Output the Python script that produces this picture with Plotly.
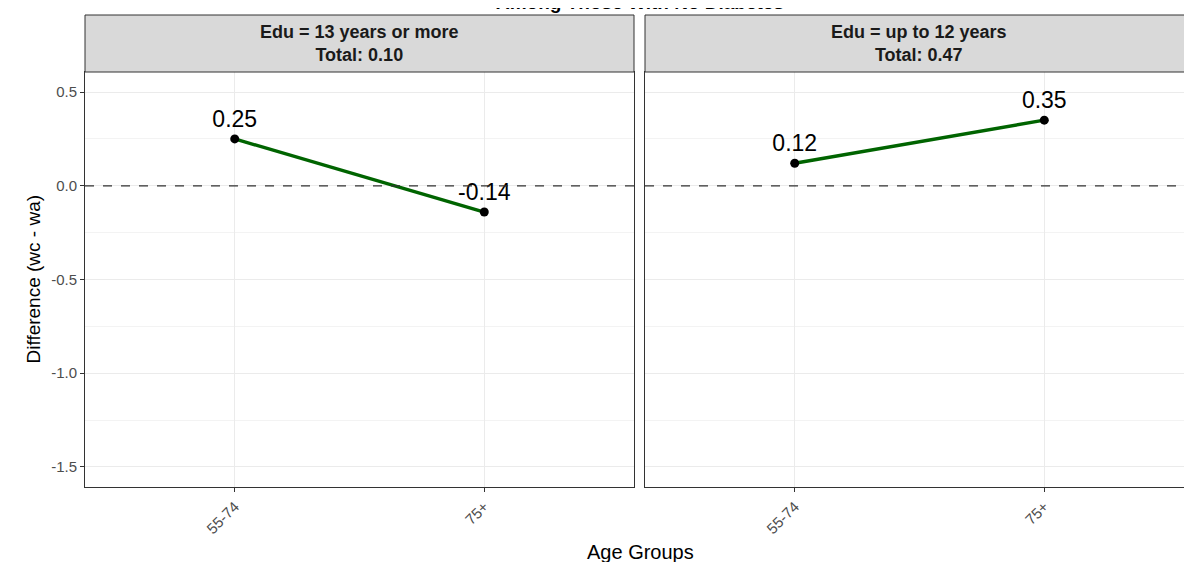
import plotly.graph_objects as go

age_groups = ["55-74", "75+"]
panel_line1 = ["Edu = 13 years or more", "Edu = up to 12 years"]
panel_line2 = ["Total: 0.10", "Total: 0.47"]
diff_edu13 = [0.25, -0.14]
diff_edu12 = [0.12, 0.35]
label_edu13 = ["0.25", "-0.14"]
label_edu12 = ["0.12", "0.35"]
y_ticks = [0.5, 0.0, -0.5, -1.0, -1.5]
y_tick_text = ["0.5", "0.0", "-0.5", "-1.0", "-1.5"]

FONT = "Liberation Sans, Arial, sans-serif"
# page body has an 8px margin; compensate so the plot lands where the reference has it
W, H = 1184, 554
ml, mr, mt, mb = 77, 0, 7, 75
plot_w = W - ml - mr
plot_h = H - mt - mb
strip_h = 57
ytop = 1 - strip_h / plot_h
d1 = (0, 549 / plot_w)
d2 = (560 / plot_w, 1.0)

fig = go.Figure()
series = [(diff_edu13, label_edu13, "x", "y"), (diff_edu12, label_edu12, "x2", "y2")]
for vals, labs, xa, ya in series:
    fig.add_trace(go.Scatter(
        x=age_groups, y=vals, xaxis=xa, yaxis=ya, mode="lines+markers+text",
        line=dict(color="#006400", width=3.4),
        marker=dict(color="black", size=9),
        text=labs, textposition="top center",
        textfont=dict(family=FONT, size=23, color="black"),
        showlegend=False, cliponaxis=False,
    ))

xcommon = dict(type="category", categoryorder="array", categoryarray=age_groups,
               showgrid=True, gridcolor="#EBEBEB", gridwidth=1, automargin=False,
               showline=True, linecolor="#333333", linewidth=1, mirror=True,
               ticks="outside", ticklen=4, tickcolor="#333333", tickangle=-45,
               tickfont=dict(family=FONT, size=15, color="#4D4D4D"), zeroline=False)
ycommon = dict(range=[-1.607, 0.607], tickvals=y_ticks, ticktext=y_tick_text,
               showgrid=True, gridcolor="#EBEBEB", gridwidth=1, automargin=False,
               minor=dict(dtick=0.25, tick0=0.25, showgrid=True, gridcolor="#F3F3F3", gridwidth=1),
               showline=True, linecolor="#333333", linewidth=1, mirror=True,
               ticks="outside", ticklen=4, tickcolor="#333333",
               tickfont=dict(family=FONT, size=15, color="#4D4D4D"), zeroline=False,
               domain=[0, ytop])

fig.update_layout(
    width=W, height=H, margin=dict(l=ml, r=mr, t=mt, b=mb, autoexpand=False),
    plot_bgcolor="white", paper_bgcolor="white",
    xaxis=dict(xcommon, domain=d1, range=[-0.6, 1.6]),
    xaxis2=dict(xcommon, domain=d2, range=[-0.6, 1.592], anchor="y2"),
    yaxis=dict(ycommon, anchor="x"),
    yaxis2=dict(ycommon, anchor="x2", showticklabels=False, ticks=""),
    font=dict(family=FONT),
)

# zero reference lines
for xa, ya in [("x", "y"), ("x2", "y2")]:
    fig.add_shape(type="line", xref=f"{xa} domain", yref=ya, x0=0, x1=1, y0=0, y1=0,
                  line=dict(color="#333333", width=1.2, dash="dash"))

# strips
for (dx0, dx1), l1, l2 in zip([d1, d2], panel_line1, panel_line2):
    fig.add_shape(type="rect", xref="paper", yref="paper", x0=dx0, x1=dx1, y0=ytop, y1=1,
                  fillcolor="#D9D9D9", line=dict(color="#333333", width=1))
    fig.add_annotation(xref="paper", yref="paper", x=(dx0 + dx1) / 2, y=(ytop + 1) / 2,
                       text=f"<b>{l1}</b><br><b>{l2}</b>", showarrow=False,
                       xanchor="center", yanchor="middle",
                       font=dict(family=FONT, size=18, color="#1A1A1A"), align="center")

fig.add_annotation(xref="paper", yref="paper", x=(555 / plot_w), y=1, yshift=13,
                   text="<b>Among Those With No Diabetes</b>", showarrow=False, yanchor="middle",
                   font=dict(family=FONT, size=19, color="black"))

fig.add_annotation(xref="paper", yref="paper", x=(555 / plot_w), y=0, yshift=-65,
                   text="Age Groups", showarrow=False, yanchor="middle",
                   font=dict(family=FONT, size=20, color="black"))
fig.add_annotation(xref="paper", yref="paper", x=0, xshift=-52, y=ytop / 2,
                   text="Difference (wc - wa)", showarrow=False, textangle=-90, xanchor="center",
                   font=dict(family=FONT, size=19, color="black"))

fig.write_html("out.html")
